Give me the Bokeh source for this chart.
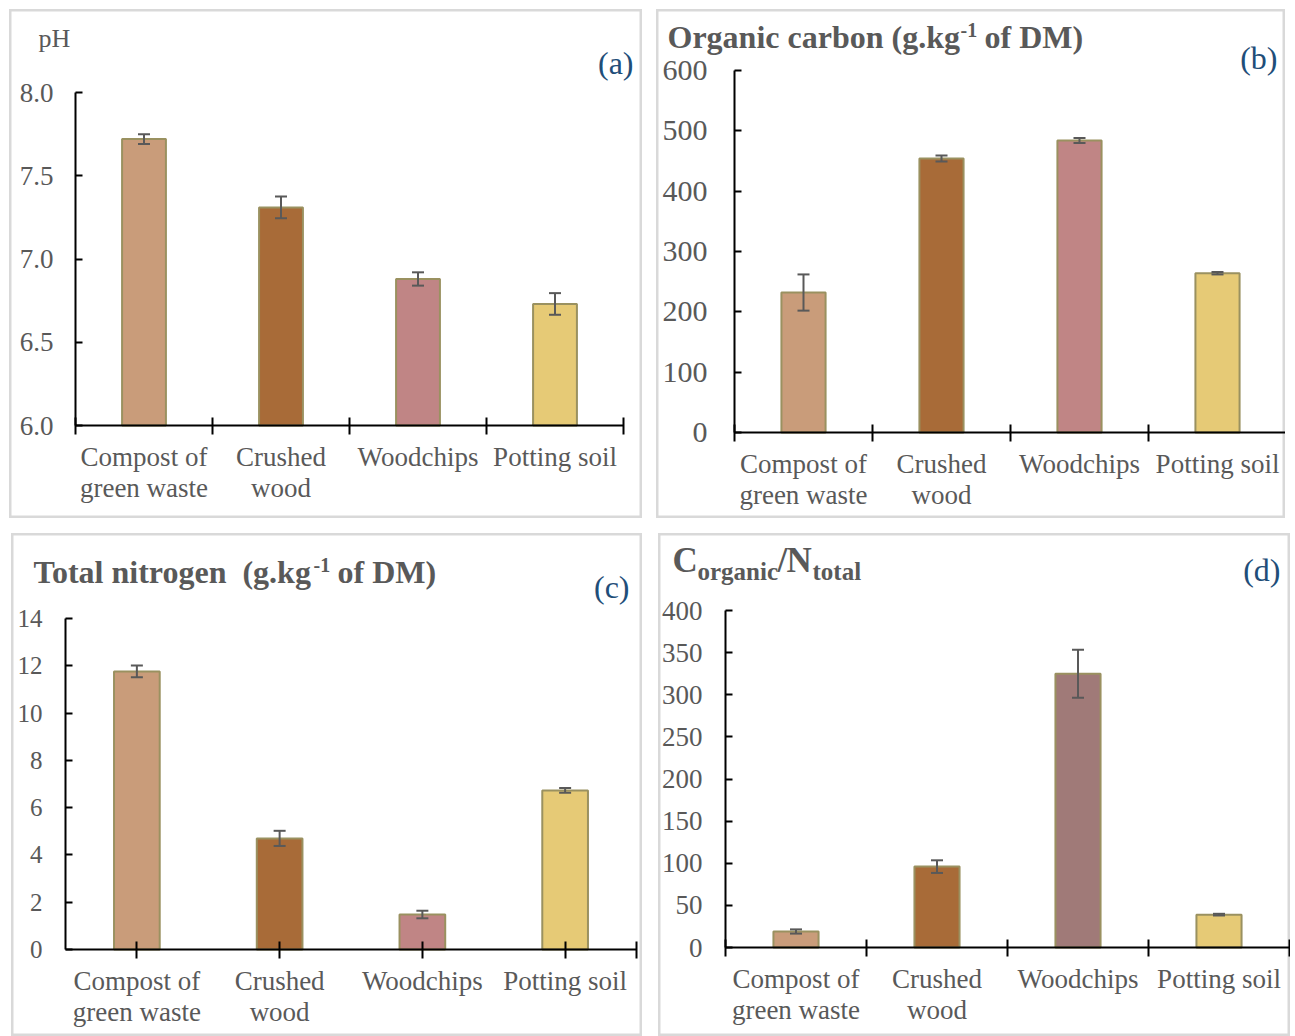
from bokeh.plotting import figure
from bokeh.models import (ColumnDataSource, Range1d, FixedTicker, Whisker, TeeHead,
                          Label, PrintfTickFormatter, Spacer)
from bokeh.layouts import row, column
from bokeh.embed import file_html
from bokeh.resources import INLINE

# ---------------- data ----------------
categories = ["Compost of\ngreen waste", "Crushed\nwood", "Woodchips", "Potting soil"]
colors = ["#c99c7a", "#a86b38", "#c08585", "#e6ca76"]
colors_d = ["#c99c7a", "#a86b38", "#a07a78", "#e6ca76"]

ph_values = [7.72, 7.31, 6.88, 6.73]
ph_errors = [0.03, 0.065, 0.04, 0.065]
ph_ticks = [6.0, 6.5, 7.0, 7.5, 8.0]

oc_values = [232, 454, 484, 264]
oc_errors = [30, 5, 4, 2]
oc_ticks = [0, 100, 200, 300, 400, 500, 600]

n_values = [11.76, 4.70, 1.48, 6.73]
n_errors = [0.25, 0.32, 0.16, 0.10]
n_ticks = [0, 2, 4, 6, 8, 10, 12, 14]

cn_values = [19, 96, 325, 39]
cn_errors = [2.5, 7.5, 28.5, 1.0]
cn_ticks = [0, 50, 100, 150, 200, 250, 300, 350, 400]

GRAY = "#595959"
BLUE = "#1f4e79"
SERIF = "Liberation Serif"
NB = "\u00a0"


def make_panel(W, H, ax_left, ax_right, ax_top, ax_bottom, yticks, fmt, values, errors,
               cols, tick_size, ytick_standoff, sep_centers=False):
    """ax_* : pixel positions (inside the panel) of the axis box corners."""
    n = len(categories)
    sx = (ax_right - ax_left) / n
    y0, y1 = yticks[0], yticks[-1]
    sy = (ax_bottom - ax_top) / (y1 - y0)
    xr = Range1d(-ax_left / sx, n + (W - ax_right) / sx)
    yr = Range1d(y0 - (H - ax_bottom) / sy, y1 + ax_top / sy)
    p = figure(width=W, height=H, x_range=xr, y_range=yr,
               output_backend="svg", toolbar_location=None, title_location=None,
               min_border=0, min_border_left=0, min_border_right=0,
               min_border_top=0, min_border_bottom=0)
    p.outline_line_color = "#d9d9d9"
    p.outline_line_width = 4
    p.background_fill_color = "white"
    p.border_fill_color = "white"
    p.xgrid.visible = False
    p.ygrid.visible = False

    xs = [i + 0.5 for i in range(n)]
    src = ColumnDataSource(dict(
        x=xs, top=values, color=cols,
        upper=[v + e for v, e in zip(values, errors)],
        lower=[v - e for v, e in zip(values, errors)]))
    p.vbar(x="x", top="top", bottom=y0, width=0.32, source=src,
           fill_color="color", line_color="#9a9160", line_width=2)
    wk = Whisker(base="x", upper="upper", lower="lower", source=src,
                 line_color=GRAY, line_width=2, level="annotation",
                 upper_head=TeeHead(size=12, line_color=GRAY, line_width=2),
                 lower_head=TeeHead(size=12, line_color=GRAY, line_width=2))
    p.add_layout(wk)

    # y axis (drawn at x = 0 inside the panel)
    ya = p.yaxis[0]
    ya.fixed_location = 0
    ya.bounds = (y0, y1)
    ya.ticker = FixedTicker(ticks=yticks, minor_ticks=[])
    ya.formatter = PrintfTickFormatter(format=fmt)
    ya.axis_line_color = "black"
    ya.axis_line_width = 2
    ya.major_tick_line_color = "black"
    ya.major_tick_line_width = 2
    ya.major_tick_in = 7
    ya.major_tick_out = 0
    ya.minor_tick_line_color = None
    ya.major_label_standoff = ytick_standoff
    ya.major_label_text_font = SERIF
    ya.major_label_text_font_size = f"{tick_size}px"
    ya.major_label_text_color = GRAY

    # x axis (drawn at y = y0)
    xa = p.xaxis[0]
    xa.fixed_location = y0
    xa.bounds = (0, n)
    if sep_centers:
        minor = xs + [float(n)]
    else:
        minor = [float(i) for i in range(n + 1)]
    xa.ticker = FixedTicker(ticks=xs, minor_ticks=minor)
    xa.major_label_overrides = {x: c for x, c in zip(xs, categories)}
    xa.axis_line_color = "black"
    xa.axis_line_width = 2
    xa.major_tick_line_color = None
    xa.major_tick_in = 0
    xa.major_tick_out = 0
    xa.minor_tick_line_color = "black"
    xa.minor_tick_line_width = 2
    xa.minor_tick_in = 8
    xa.minor_tick_out = 9
    xa.major_label_standoff = 7
    xa.major_label_text_font = SERIF
    xa.major_label_text_font_size = "27px"
    xa.major_label_text_line_height = 1.05
    xa.major_label_text_color = GRAY
    return p


def lab(p, H, px, py, text, size, color=GRAY, bold=False, align="left"):
    # py is the vertical centre of the text line, measured from the panel top
    p.add_layout(Label(x=px, y=H - py, x_units="screen", y_units="screen",
                       text=text, text_font=SERIF, text_font_size=f"{size}px",
                       text_font_style="bold" if bold else "normal",
                       text_color=color, text_align=align,
                       text_baseline="middle"))


# ---------------- panel (a) ----------------
WA, HA = 633, 509
pa = make_panel(WA, HA, 66, 614, 83, 416, ph_ticks, "%.1f",
                ph_values, ph_errors, colors, 27, 22)
lab(pa, HA, 29, 29, "pH", 26)
lab(pa, HA, 624, 53, "(a)", 32, color=BLUE, align="right")

# ---------------- panel (b) ----------------
WB, HB = 629, 509
pb = make_panel(WB, HB, 78, 630, 61, 423, oc_ticks, "%d",
                oc_values, oc_errors, colors, 30, 27)
lab(pb, HB, 11, 27, "Organic carbon (g.kg", 32, bold=True)
lab(pb, HB, 304, 20, "-1", 20, bold=True)
lab(pb, HB, 320, 27, NB + "of DM)", 32, bold=True)
lab(pb, HB, 621, 48, "(b)", 32, color=BLUE, align="right")

# ---------------- panel (c) ----------------
WC, HC = 631, 503
pc = make_panel(WC, HC, 54, 625, 85, 416, n_ticks, "%d",
                n_values, n_errors, colors, 25, 23, sep_centers=True)
lab(pc, HC, 22, 38, "Total nitrogen" + NB + " (g.kg", 32, bold=True)
lab(pc, HC, 302, 31, "-1", 20, bold=True)
lab(pc, HC, 318, 38, NB + "of DM)", 32, bold=True)
lab(pc, HC, 618, 53, "(c)", 32, color=BLUE, align="right")

# ---------------- panel (d) ----------------
WD, HD = 632, 503
pd_ = make_panel(WD, HD, 67, 631, 77, 414, cn_ticks, "%d",
                 cn_values, cn_errors, colors_d, 27, 23)
lab(pd_, HD, 14, 27, "C", 35, bold=True)
lab(pd_, HD, 39, 38, "organic", 25, bold=True)
lab(pd_, HD, 119, 27, "/", 35, bold=True)
lab(pd_, HD, 128, 27, "N", 35, bold=True)
lab(pd_, HD, 154, 38, "total", 25, bold=True)
lab(pd_, HD, 622, 36, "(d)", 32, color=BLUE, align="right")

row1 = row(Spacer(width=9), pa, Spacer(width=14), pb)
row2 = row(Spacer(width=11), pc, Spacer(width=16), pd_)
layout = column(Spacer(height=9), row1, Spacer(height=15), row2)

open("out.html", "w").write(file_html(layout, INLINE))
